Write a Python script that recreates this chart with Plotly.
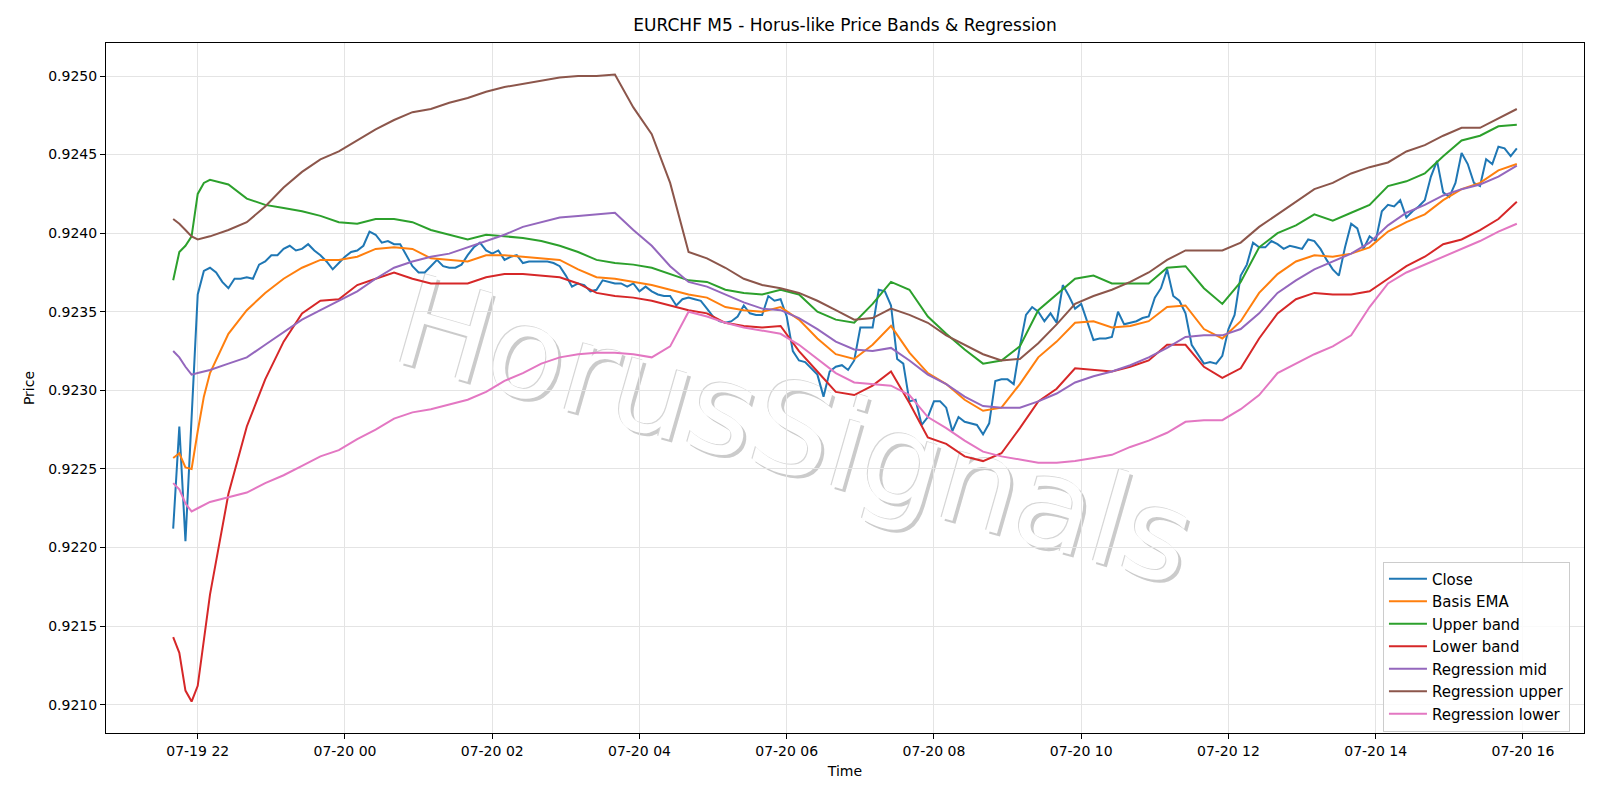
import pandas as pd
import plotly.graph_objects as go

# ---------------- data ----------------
START = "2025-07-19 21:40"
N_BARS = 220  # 5-minute bars
SMOOTH_IDX = list(range(0, 7)) + list(range(9, 220, 3))  # bars where smooth lines were sampled

close = [
    0.92212, 0.92277, 0.92204, 0.92283, 0.92361, 0.92376, 0.92378, 0.92375, 0.92369, 0.92365,
    0.92371, 0.92371, 0.92372, 0.92371, 0.92380, 0.92382, 0.92386, 0.92386, 0.92390, 0.92392,
    0.92389, 0.92390, 0.92393, 0.92389, 0.92386, 0.92382, 0.92377, 0.92381, 0.92385, 0.92388,
    0.92389, 0.92392, 0.92401, 0.92399, 0.92394, 0.92395, 0.92393, 0.92393, 0.92386, 0.92379,
    0.92375, 0.92375, 0.92379, 0.92383, 0.92379, 0.92378, 0.92378, 0.92380, 0.92386, 0.92391,
    0.92394, 0.92389, 0.92387, 0.92389, 0.92383, 0.92385, 0.92386, 0.92381, 0.92382, 0.92382,
    0.92382, 0.92382, 0.92381, 0.92379, 0.92373, 0.92366, 0.92368, 0.92367, 0.92363, 0.92364,
    0.92370, 0.92369, 0.92368, 0.92368, 0.92366, 0.92368, 0.92363, 0.92366, 0.92363, 0.92361,
    0.92360, 0.92360, 0.92354, 0.92358, 0.92359, 0.92358, 0.92357, 0.92352, 0.92347, 0.92344,
    0.92343, 0.92344, 0.92347, 0.92354, 0.92349, 0.92348, 0.92348, 0.92360, 0.92357, 0.92358,
    0.92347, 0.92325, 0.92319, 0.92318, 0.92314, 0.92310, 0.92296, 0.92312, 0.92315, 0.92316,
    0.92313, 0.92319, 0.92340, 0.92340, 0.92340, 0.92364, 0.92363, 0.92354, 0.92320, 0.92317,
    0.92293, 0.92294, 0.92278, 0.92283, 0.92293, 0.92293, 0.92289, 0.92274, 0.92283, 0.92280,
    0.92279, 0.92278, 0.92272, 0.92279, 0.92306, 0.92307, 0.92307, 0.92304, 0.92328, 0.92348,
    0.92353, 0.92350, 0.92344, 0.92349, 0.92343, 0.92367, 0.92360, 0.92352, 0.92355, 0.92343,
    0.92332, 0.92333, 0.92333, 0.92334, 0.92350, 0.92342, 0.92343, 0.92344, 0.92346, 0.92347,
    0.92359, 0.92365, 0.92377, 0.92360, 0.92357, 0.92349, 0.92329, 0.92323, 0.92317, 0.92318,
    0.92317, 0.92322, 0.92339, 0.92348, 0.92373, 0.92380, 0.92394, 0.92391, 0.92391, 0.92395,
    0.92393, 0.92390, 0.92392, 0.92391, 0.92390, 0.92396, 0.92395, 0.92390, 0.92383, 0.92377,
    0.92373, 0.92391, 0.92406, 0.92403, 0.92390, 0.92398, 0.92395, 0.92414, 0.92418, 0.92417,
    0.92421, 0.92410, 0.92414, 0.92417, 0.92421, 0.92436, 0.92446, 0.92426, 0.92423, 0.92432,
    0.92451, 0.92444, 0.92432, 0.92430, 0.92447, 0.92444, 0.92455, 0.92454, 0.92449, 0.92454,
]

basis_ema = [
    0.92257, 0.92260, 0.92251, 0.92250, 0.92274, 0.92296, 0.92311, 0.92336, 0.92351, 0.92362, 0.92371, 0.92378, 0.92383, 0.92383,
    0.92385, 0.92390, 0.92391, 0.92390, 0.92384, 0.92383, 0.92382, 0.92386, 0.92386,
    0.92385, 0.92384, 0.92383, 0.92377, 0.92372, 0.92371, 0.92369, 0.92367, 0.92364,
    0.92361, 0.92359, 0.92353, 0.92351, 0.92350, 0.92353, 0.92345, 0.92333, 0.92323, 0.92320,
    0.92329, 0.92341, 0.92324, 0.92311, 0.92304, 0.92294, 0.92287, 0.92289, 0.92304,
    0.92321, 0.92331, 0.92343, 0.92344, 0.92340, 0.92341, 0.92344, 0.92353, 0.92354,
    0.92339, 0.92333, 0.92344, 0.92362, 0.92374, 0.92382, 0.92386, 0.92385, 0.92387,
    0.92391, 0.92401, 0.92407, 0.92412, 0.92421, 0.92428, 0.92432, 0.92440, 0.92444,
]

upper_band = [
    0.92370, 0.92388, 0.92392, 0.92398, 0.92425, 0.92432, 0.92434, 0.92431, 0.92422, 0.92418, 0.92416, 0.92414, 0.92411, 0.92407,
    0.92406, 0.92409, 0.92409, 0.92407, 0.92402, 0.92399, 0.92396, 0.92399, 0.92398,
    0.92397, 0.92395, 0.92392, 0.92388, 0.92383, 0.92381, 0.92380, 0.92378, 0.92374,
    0.92370, 0.92369, 0.92364, 0.92362, 0.92361, 0.92364, 0.92361, 0.92350, 0.92345, 0.92343,
    0.92355, 0.92369, 0.92364, 0.92347, 0.92336, 0.92326, 0.92317, 0.92319, 0.92328,
    0.92351, 0.92361, 0.92371, 0.92373, 0.92368, 0.92368, 0.92368, 0.92378, 0.92379,
    0.92365, 0.92355, 0.92369, 0.92391, 0.92400, 0.92405, 0.92412, 0.92408, 0.92413,
    0.92418, 0.92430, 0.92433, 0.92438, 0.92449, 0.92459, 0.92462, 0.92468, 0.92469,
]

lower_band = [
    0.92143, 0.92133, 0.92109, 0.92102, 0.92112, 0.92141, 0.92170, 0.92234, 0.92277, 0.92307, 0.92331, 0.92349, 0.92357, 0.92358,
    0.92367, 0.92371, 0.92375, 0.92371, 0.92368, 0.92368, 0.92368, 0.92372, 0.92374,
    0.92374, 0.92373, 0.92372, 0.92368, 0.92362, 0.92360, 0.92359, 0.92357, 0.92354,
    0.92351, 0.92349, 0.92343, 0.92341, 0.92340, 0.92341, 0.92325, 0.92312, 0.92299, 0.92297,
    0.92303, 0.92312, 0.92292, 0.92270, 0.92266, 0.92258, 0.92255, 0.92260, 0.92276,
    0.92293, 0.92301, 0.92314, 0.92313, 0.92312, 0.92315, 0.92319, 0.92329, 0.92329,
    0.92315, 0.92308, 0.92314, 0.92333, 0.92349, 0.92358, 0.92362, 0.92361, 0.92361,
    0.92363, 0.92371, 0.92379, 0.92385, 0.92393, 0.92396, 0.92402, 0.92409, 0.92420,
]

regression_mid = [
    0.92325, 0.92321, 0.92315, 0.92310, 0.92311, 0.92312, 0.92313, 0.92317, 0.92321, 0.92329, 0.92337, 0.92345, 0.92351, 0.92357,
    0.92363, 0.92371, 0.92378, 0.92382, 0.92385, 0.92387, 0.92391, 0.92395, 0.92399,
    0.92404, 0.92407, 0.92410, 0.92411, 0.92412, 0.92413, 0.92402, 0.92392, 0.92379,
    0.92369, 0.92366, 0.92361, 0.92356, 0.92352, 0.92351, 0.92346, 0.92339, 0.92331, 0.92326,
    0.92325, 0.92327, 0.92319, 0.92310, 0.92304, 0.92296, 0.92290, 0.92289, 0.92289,
    0.92293, 0.92298, 0.92305, 0.92309, 0.92312, 0.92316, 0.92321, 0.92327, 0.92334,
    0.92335, 0.92335, 0.92339, 0.92349, 0.92362, 0.92370, 0.92377, 0.92382, 0.92387,
    0.92394, 0.92405, 0.92413, 0.92418, 0.92424, 0.92428, 0.92431, 0.92436, 0.92443,
]

regression_upper = [
    0.92409, 0.92406, 0.92402, 0.92398, 0.92396, 0.92397, 0.92398, 0.92402, 0.92407, 0.92417, 0.92429, 0.92439, 0.92447, 0.92452,
    0.92459, 0.92466, 0.92472, 0.92477, 0.92479, 0.92483, 0.92486, 0.92490, 0.92493,
    0.92495, 0.92497, 0.92499, 0.92500, 0.92500, 0.92501, 0.92480, 0.92463, 0.92432,
    0.92388, 0.92384, 0.92378, 0.92371, 0.92367, 0.92365, 0.92362, 0.92357, 0.92351, 0.92345,
    0.92346, 0.92352, 0.92348, 0.92343, 0.92335, 0.92329, 0.92323, 0.92319, 0.92320,
    0.92330, 0.92342, 0.92355, 0.92360, 0.92364, 0.92369, 0.92375, 0.92383, 0.92389,
    0.92389, 0.92389, 0.92394, 0.92404, 0.92412, 0.92420, 0.92428, 0.92432, 0.92438,
    0.92442, 0.92445, 0.92452, 0.92456, 0.92462, 0.92467, 0.92467, 0.92473, 0.92479,
]

regression_lower = [
    0.92241, 0.92237, 0.92228, 0.92223, 0.92225, 0.92227, 0.92229, 0.92232, 0.92235, 0.92241, 0.92246, 0.92252, 0.92258, 0.92262,
    0.92269, 0.92275, 0.92282, 0.92286, 0.92288, 0.92291, 0.92294, 0.92299, 0.92306,
    0.92311, 0.92317, 0.92321, 0.92323, 0.92324, 0.92324, 0.92323, 0.92321, 0.92328,
    0.92350, 0.92347, 0.92343, 0.92340, 0.92338, 0.92336, 0.92329, 0.92320, 0.92311, 0.92305,
    0.92304, 0.92303, 0.92297, 0.92283, 0.92276, 0.92268, 0.92261, 0.92258, 0.92256,
    0.92254, 0.92254, 0.92255, 0.92257, 0.92259, 0.92264, 0.92268, 0.92273, 0.92280,
    0.92281, 0.92281, 0.92288, 0.92297, 0.92311, 0.92317, 0.92323, 0.92328, 0.92335,
    0.92353, 0.92368, 0.92375, 0.92380, 0.92385, 0.92390, 0.92395, 0.92401, 0.92406,
]

Y_TICKS = [0.9210, 0.9215, 0.9220, 0.9225, 0.9230, 0.9235, 0.9240, 0.9245, 0.9250]

# ---------------- figure ----------------
times = pd.date_range(START, periods=N_BARS, freq="5min")
times_s = times[SMOOTH_IDX]

series = [
    ("Close", times, close, "#1f77b4"),
    ("Basis EMA", times_s, basis_ema, "#ff7f0e"),
    ("Upper band", times_s, upper_band, "#2ca02c"),
    ("Lower band", times_s, lower_band, "#d62728"),
    ("Regression mid", times_s, regression_mid, "#9467bd"),
    ("Regression upper", times_s, regression_upper, "#8c564b"),
    ("Regression lower", times_s, regression_lower, "#e377c2"),
]

fig = go.Figure()
for name, xs, ys, col in series:
    fig.add_trace(go.Scatter(x=xs, y=ys, mode="lines", name=name,
                             line=dict(color=col, width=2)))

FONT = "DejaVu Sans"

# watermark (real text as shape labels, drawn beneath the data)
cx, cy = 0.468, 0.451
def wm(dx, dy, color):
    return dict(type="rect", xref="paper", yref="paper",
                x0=cx - 0.01 + dx, x1=cx + 0.01 + dx, y0=cy - 0.01 + dy, y1=cy + 0.01 + dy,
                line=dict(width=0), fillcolor="rgba(0,0,0,0)", layer="below",
                label=dict(text="HorusSignals", textangle=16, textposition="middle center",
                           font=dict(family=FONT, size=126, color=color)))

px_x = 1.0 / 1478.0
px_y = 1.0 / 690.0
fig.update_layout(shapes=[
    wm(3 * px_x, -3 * px_y, "#cbcbcb"),
    wm(-1 * px_x, 1 * px_y, "#d6d6d6"),
    wm(0, 0, "#ffffff"),
])

fig.update_layout(
    width=1600, height=800,
    margin=dict(l=106, r=16, t=43, b=67),
    paper_bgcolor="white", plot_bgcolor="white",
    font=dict(family=FONT, size=14, color="black"),
    title=dict(text="EURCHF M5 - Horus-like Price Bands & Regression",
               x=0.5, xref="paper", xanchor="center",
               y=1 - 25.5 / 800, yref="container", yanchor="middle",
               font=dict(family=FONT, size=17, color="black")),
    legend=dict(x=0.9905, y=0.002, xanchor="right", yanchor="bottom",
                bgcolor="rgba(255,255,255,0.8)", bordercolor="#cccccc", borderwidth=1,
                font=dict(family=FONT, size=15, color="black"),
                itemwidth=38, tracegroupgap=0),
    showlegend=True,
)

fig.update_xaxes(
    type="date",
    range=["2025-07-19 20:45:15", "2025-07-20 16:49:45"],
    tick0="2025-07-19 22:00", dtick=2 * 3600 * 1000, tickformat="%m-%d %H",
    showline=True, linecolor="black", linewidth=1, mirror=True,
    ticks="outside", ticklen=5, tickcolor="black", tickwidth=1,
    showgrid=True, gridcolor="#e4e4e4", gridwidth=1, zeroline=False,
    tickfont=dict(family=FONT, size=14, color="black"),
    title=dict(text="Time", font=dict(family=FONT, size=14, color="black"), standoff=8),
)
fig.update_yaxes(
    range=[0.92082, 0.92521],
    tickvals=Y_TICKS, ticktext=[f"{v:.4f}" for v in Y_TICKS],
    showline=True, linecolor="black", linewidth=1, mirror=True,
    ticks="outside", ticklen=5, tickcolor="black", tickwidth=1,
    showgrid=True, gridcolor="#e4e4e4", gridwidth=1, zeroline=False,
    tickfont=dict(family=FONT, size=14, color="black"),
    title=dict(text="Price", font=dict(family=FONT, size=14, color="black"), standoff=10),
)

fig.write_html("out.html")
